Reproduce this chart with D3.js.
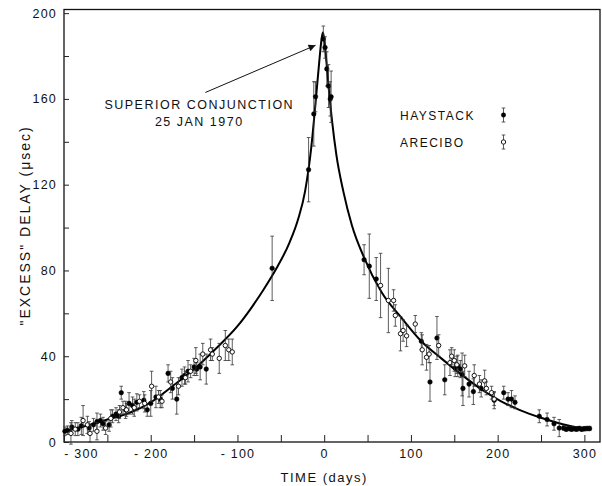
<!DOCTYPE html>
<html>
<head>
<meta charset="utf-8">
<script src="https://cdn.jsdelivr.net/npm/d3@7"></script>
<style>
  body { margin: 0; background: #fff; }
  svg text { font-family: "Liberation Sans", Arial, sans-serif; fill: #111; }
</style>
</head>
<body>
<svg id="chart" width="602" height="486"></svg>
<script>
// time in days from conjunction, excess delay in microseconds, error bar half-length
var haystack = [
  [-299, 5, 2], [-296, 5.5, 2], [-291, 7, 3], [-284, 6, 3], [-280, 7.5, 4],
  [-271, 6.5, 3], [-266, 8, 3], [-262, 9.5, 4], [-258, 10, 3], [-255, 8.5, 3],
  [-248, 8, 3], [-244, 12, 3], [-240, 13, 3], [-237, 12, 3], [-234, 23, 3],
  [-229, 15, 4], [-225, 18, 5], [-221, 17, 4], [-216, 18.5, 4], [-208, 19.5, 4],
  [-204, 15, 3], [-200, 18, 6], [-194, 21, 5], [-189, 20, 4], [-180, 32, 4],
  [-175, 25, 5], [-170, 20, 7], [-164, 30, 4], [-161, 31, 4], [-157, 33, 5],
  [-150, 35, 4], [-147, 34, 3], [-143, 35, 6], [-136, 34, 7], [-60, 81, 15],
  [-18, 127, 15], [-12, 153, 15], [-10, 161, 7], [-1, 188, 6], [1, 184, 5],
  [3, 174, 8], [5, 166, 10], [7, 160, 8], [8, 161, 12],
  [46, 85, 7], [52, 82, 15], [60, 76, 10], [112, 47, 4], [122, 28, 9],
  [130, 48.5, 10], [139, 29, 7], [151, 34.5, 4], [154, 35.5, 5], [157, 34, 4],
  [159, 31.5, 10], [160, 25, 8], [167, 27, 6], [172, 23.5, 6], [181, 25, 4],
  [196, 19.5, 4], [207, 23, 3], [212, 20, 3], [216, 20, 4], [220, 18.5, 3],
  [248, 12, 3], [257, 10.5, 3], [265, 8.5, 3], [271, 6.5, 4], [276, 6.5, 1],
  [279, 6, 1], [282, 6.3, 1], [285, 6, 1], [288, 6.2, 1], [291, 6, 1],
  [294, 6.3, 1], [297, 6, 1], [300, 6.2, 1], [303, 6.3, 1], [306, 6.3, 1]
];

var arecibo = [
  [-292, 4, 5], [-287, 6, 3], [-278, 10, 7], [-273, 8, 4], [-270, 4, 4],
  [-262, 5, 4], [-252, 6.5, 3], [-246, 11, 4], [-236, 14, 3], [-232, 16, 3],
  [-228, 15, 3], [-219, 16, 4], [-213, 19, 3], [-207, 18, 4], [-199, 26, 7],
  [-191, 21, 3], [-187, 19, 3], [-177, 28, 5], [-168, 26, 4], [-160, 30, 3],
  [-154, 33, 3], [-148, 38, 6], [-140, 41, 5], [-131, 43, 5], [-129, 41, 3],
  [-121, 39, 7], [-114, 45, 7], [-110, 43, 5], [-106, 42, 6],
  [65, 73, 15], [74, 66, 15], [80, 66, 5], [82, 59, 5], [88, 50.5, 8],
  [91, 52, 5], [95, 49.5, 5], [105, 55, 4], [113, 43, 7], [118, 39.5, 6],
  [121, 41, 4], [132, 45, 5], [145, 37, 6], [147, 40, 4], [150, 38, 5],
  [153, 36, 4], [162, 35.5, 5], [173, 31, 5], [179, 27, 4], [185, 28.5, 5],
  [187, 25, 3], [193, 23, 3], [196, 20, 3]
];

// fitted relativistic delay curve
var curveDays  = [-300, -275, -250, -225, -200, -175, -150, -125, -100, -85, -70, -55, -40, -30, -22, -15, -10, -6, -3, -1.5, 0, 2, 5, 9, 14, 22, 32, 46, 66, 89, 112, 135, 158, 181, 204, 225, 250, 275, 300, 308];
var curveDelay = [5, 7.5, 10.5, 13.5, 18.5, 26, 34, 43.5, 54, 62, 71, 81, 93, 104, 117, 137, 158, 176, 188, 191, 188, 180, 166, 150, 134, 117, 101, 86, 70, 58, 47, 39, 31.5, 24.6, 19, 15, 11.3, 8.3, 6.4, 6.2];

var xTicks = d3.range(-300, 301, 50);
var yTicks = d3.range(0, 201, 20);

var svg = d3.select('#chart');

var x = d3.scaleLinear().domain([-300, 318]).range([64, 600]);
var y = d3.scaleLinear().domain([0, 201.7]).range([442, 9.5]);

// frame
svg.append('rect')
  .attr('x', x(-300)).attr('y', y(201.7))
  .attr('width', x(318) - x(-300)).attr('height', y(0) - y(201.7))
  .style('fill', 'none').style('stroke', '#111').style('stroke-width', 1.3);

var xAxis = svg.append('g')
  .attr('transform', 'translate(0,' + y(0) + ')')
  .call(d3.axisBottom(x).tickValues(xTicks).tickSizeInner(-7).tickSizeOuter(0).tickPadding(7)
    .tickFormat(function(d) { return d % 100 === 0 ? String(d).replace('-', '- ') : ''; }));
xAxis.select('.domain').remove();
xAxis.selectAll('.tick line').style('stroke', '#222').style('stroke-width', 1);
xAxis.selectAll('.tick text').style('font-size', '12.5px').style('letter-spacing', '1.2px')
  .style('font-family', '"Liberation Sans", Arial, sans-serif').style('fill', '#111');
xAxis.selectAll('.tick').filter(function(d) { return d === -300; })
  .select('text').attr('dx', 17);

var yAxis = svg.append('g')
  .attr('transform', 'translate(' + x(-300) + ',0)')
  .call(d3.axisLeft(y).tickValues(yTicks).tickSizeInner(-5).tickSizeOuter(0).tickPadding(7)
    .tickFormat(function(d) { return d % 40 === 0 ? d : ''; }));
yAxis.select('.domain').remove();
yAxis.selectAll('.tick line').style('stroke', '#222').style('stroke-width', 1);
yAxis.selectAll('.tick text').style('font-size', '12.5px').style('letter-spacing', '1.2px')
  .style('font-family', '"Liberation Sans", Arial, sans-serif').style('fill', '#111');

// axis titles
svg.append('text')
  .attr('x', x(0)).attr('y', 482)
  .attr('text-anchor', 'middle')
  .style('font-size', '13px').style('letter-spacing', '1.5px')
  .text('TIME (days)');

svg.append('text')
  .attr('transform', 'translate(30,' + y(101) + ')rotate(-90)')
  .attr('text-anchor', 'middle')
  .style('font-size', '14px').style('letter-spacing', '2px')
  .text('"EXCESS" DELAY (\u03bcsec)');

// model curve
var line = d3.line()
  .x(function(d) { return x(d[0]); })
  .y(function(d) { return y(d[1]); })
  .curve(d3.curveMonotoneX);

svg.append('path')
  .datum(d3.zip(curveDays, curveDelay))
  .attr('d', line)
  .style('fill', 'none').style('stroke', '#000').style('stroke-width', 2);

function drawPoints(data, filled) {
  var g = svg.append('g');
  var pts = g.selectAll('g').data(data).enter().append('g');
  pts.append('line')
    .attr('x1', function(d) { return x(d[0]); })
    .attr('x2', function(d) { return x(d[0]); })
    .attr('y1', function(d) { return y(d[1] - d[2]); })
    .attr('y2', function(d) { return y(d[1] + d[2]); })
    .style('stroke', '#333').style('stroke-width', 0.8);
  [1, -1].forEach(function(s) {
    pts.append('line')
      .attr('x1', function(d) { return x(d[0]) - 1.8; })
      .attr('x2', function(d) { return x(d[0]) + 1.8; })
      .attr('y1', function(d) { return y(d[1] + s * d[2]); })
      .attr('y2', function(d) { return y(d[1] + s * d[2]); })
      .style('stroke', '#333').style('stroke-width', 0.8);
  });
  pts.append('circle')
    .attr('cx', function(d) { return x(d[0]); })
    .attr('cy', function(d) { return y(d[1]); })
    .attr('r', filled ? 2.3 : 2.2)
    .style('fill', filled ? '#000' : '#fff')
    .style('stroke', '#000').style('stroke-width', filled ? 0.5 : 0.9);
}

drawPoints(haystack, true);
drawPoints(arecibo, false);

// annotation
svg.append('text')
  .attr('x', x(-144)).attr('y', y(155.5))
  .attr('text-anchor', 'middle')
  .style('font-size', '12.5px').style('letter-spacing', '1.5px')
  .text('SUPERIOR CONJUNCTION');
svg.append('text')
  .attr('x', x(-144)).attr('y', y(147.5))
  .attr('text-anchor', 'middle')
  .style('font-size', '12.5px').style('letter-spacing', '1.5px')
  .text('25 JAN 1970');

svg.append('defs').append('marker')
  .attr('id', 'arrow').attr('viewBox', '0 0 10 10')
  .attr('refX', 10).attr('refY', 5)
  .attr('markerWidth', 9).attr('markerHeight', 7)
  .attr('markerUnits', 'userSpaceOnUse')
  .attr('orient', 'auto')
  .append('path').attr('d', 'M0,0L10,5L0,10z').style('fill', '#111');

svg.append('line')
  .attr('x1', x(-137)).attr('y1', y(163))
  .attr('x2', x(-10)).attr('y2', y(185))
  .style('stroke', '#111').style('stroke-width', 1)
  .attr('marker-end', 'url(#arrow)');

// legend
var legend = svg.append('g');
var legendItems = [['HAYSTACK', true], ['ARECIBO', false]];
legendItems.forEach(function(item, i) {
  var cy = 115 + i * 27;
  legend.append('text')
    .attr('x', 400).attr('y', cy + 4.5)
    .style('font-size', '12px').style('letter-spacing', '1.5px')
    .text(item[0]);
  legend.append('line')
    .attr('x1', 503.5).attr('x2', 503.5).attr('y1', cy - 7).attr('y2', cy + 7)
    .style('stroke', '#333').style('stroke-width', 0.8);
  [-7, 7].forEach(function(o) {
    legend.append('line')
      .attr('x1', 501.7).attr('x2', 505.3).attr('y1', cy + o).attr('y2', cy + o)
      .style('stroke', '#333').style('stroke-width', 0.8);
  });
  legend.append('circle')
    .attr('cx', 503.5).attr('cy', cy).attr('r', 2.2)
    .style('fill', item[1] ? '#000' : '#fff')
    .style('stroke', '#000').style('stroke-width', item[1] ? 0.5 : 0.9);
});
</script>
</body>
</html>
